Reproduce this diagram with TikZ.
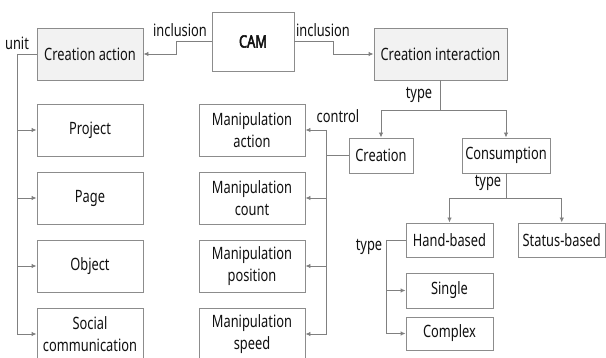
\documentclass[tikz,border=0pt]{standalone}
\usepackage{fontspec}
\setmainfont{Noto Sans}[FakeStretch=0.755, BoldFont={Noto Sans}, BoldFeatures={FakeBold=3}]
\usetikzlibrary{arrows.meta}
\definecolor{edge}{HTML}{8C8C8C}
\definecolor{wire}{HTML}{808080}
\definecolor{boxfill}{HTML}{F2F2F2}
\definecolor{ink}{HTML}{111111}
\begin{document}
\begin{tikzpicture}[x=1pt,y=-1pt,
  font=\fontsize{17}{21.5}\selectfont, text=ink,
  box/.style={draw=edge, line width=0.9pt, fill=white, inner sep=0pt,
              align=center, anchor=center},
  head/.style={box, fill=boxfill},
  wirebase/.style={draw=wire, line width=0.9pt},
  arrow/.style={wirebase, -{Latex[length=5pt,width=4.5pt]}},
  lbl/.style={inner sep=0pt, anchor=center}]
\useasboundingbox (0,0) rectangle (606,358);

% top level
\node[box, minimum width=82pt, minimum height=59pt, font=\fontsize{17}{21.5}\selectfont\bfseries] (cam) at (253,41.5) {CAM};
\node[head, minimum width=106pt, minimum height=52pt] (ca) at (90,54) {Creation action};
\node[head, minimum width=133pt, minimum height=52pt] (ci) at (440.5,54) {Creation interaction};

% units of a creation action
\node[box, minimum width=106pt, minimum height=52pt] (project) at (90,130) {Project};
\node[box, minimum width=106pt, minimum height=52pt] (page) at (90,198) {Page};
\node[box, minimum width=106pt, minimum height=52pt] (object) at (90,266) {Object};
\node[box, minimum width=106pt, minimum height=52pt] (social) at (90,334) {Social\\communication};

% manipulation controls
\node[box, minimum width=106pt, minimum height=52pt] (mact) at (252,130) {Manipulation\\action};
\node[box, minimum width=106pt, minimum height=52pt] (mcnt) at (252,198) {Manipulation\\count};
\node[box, minimum width=106pt, minimum height=52pt] (mpos) at (252,266) {Manipulation\\position};
\node[box, minimum width=106pt, minimum height=52pt] (mspd) at (252,334) {Manipulation\\speed};

% interaction types
\node[box, minimum width=64pt, minimum height=35pt] (creation) at (381,155.5) {Creation};
\node[box, minimum width=88pt, minimum height=35pt] (consumption) at (506,155.5) {Consumption};
\node[box, minimum width=87pt, minimum height=34pt] (hand) at (449.5,240) {Hand-based};
\node[box, minimum width=87pt, minimum height=34pt] (status) at (561.75,240) {Status-based};
\node[box, minimum width=87pt, minimum height=35pt] (single) at (449.5,290.5) {Single};
\node[box, minimum width=87pt, minimum height=33pt] (complex) at (449.5,333.5) {Complex};

% labels
\node[lbl] (linc) at (180,30) {inclusion};
\node[lbl] (rinc) at (323,30) {inclusion};
\node[lbl] (lunit) at (17,43) {unit};
\node[lbl] (ltype1) at (419,95) {type};
\node[lbl] (lctrl) at (338,116) {control};
\node[lbl] (ltype2) at (488,183) {type};
\node[lbl] (ltype3) at (369,247) {type};

% inclusion links
\draw[arrow] (cam.west) -- ++(-35,0) |- (ca.east);
\draw[arrow] (cam.east) -- ++(39,0) |- (ci.west);

% unit tree
\draw[wirebase] (ca.west) -- ++(-19,0) coordinate (ubus);
\draw[arrow] (ubus) |- (social.west);
\draw[arrow] (ubus |- project.west) -- (project.west);
\draw[arrow] (ubus |- page.west) -- (page.west);
\draw[arrow] (ubus |- object.west) -- (object.west);

% type split of the interaction
\draw[wirebase] (ci.south) -- ++(0,30) coordinate (tsplit);
\draw[arrow] (tsplit) -| (creation.north);
\draw[arrow] (tsplit) -| (consumption.north);

% control tree
\draw[wirebase] (creation.west) -- ++(-22,0) coordinate (cbus);
\coordinate (ctop) at (cbus |- mact.east);
\coordinate (cbot) at (cbus |- mspd.east);
\draw[wirebase] (ctop) -- (cbot);
\draw[arrow] (ctop) -- (mact.east);
\draw[arrow] (cbus |- mcnt.east) -- (mcnt.east);
\draw[arrow] (cbus |- mpos.east) -- (mpos.east);
\draw[arrow] (cbot) -- (mspd.east);

% consumption types
\draw[wirebase] (consumption.south) -- ++(0,25) coordinate (ssplit);
\draw[arrow] (ssplit) -| (hand.north);
\draw[arrow] (ssplit) -| (status.north);

% hand-based types
\draw[wirebase] (hand.west) -- ++(-19,0) coordinate (hbus);
\draw[arrow] (hbus) |- (complex.west);
\draw[arrow] (hbus |- single.west) -- (single.west);
\end{tikzpicture}
\end{document}
